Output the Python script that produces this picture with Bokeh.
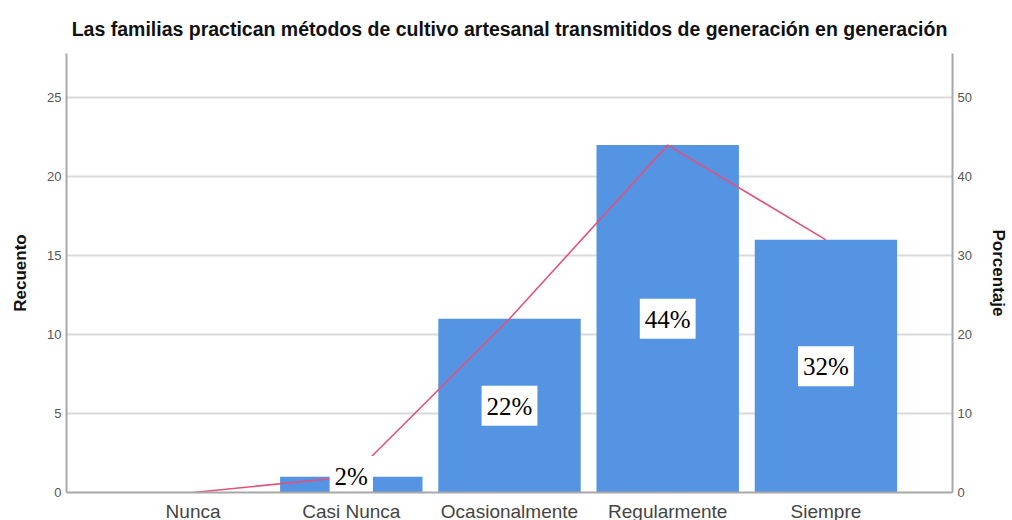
from bokeh.plotting import figure
from bokeh.models import Range1d, FactorRange, LinearAxis, FixedTicker, ColumnDataSource
from bokeh.core.properties import value
from bokeh.embed import file_html
from bokeh.resources import INLINE

categories = ["Nunca", "Casi Nunca", "Ocasionalmente", "Regularmente", "Siempre"]
counts = [0, 1, 11, 22, 16]
percents = [0, 2, 22, 44, 32]
count_ticks = [0, 5, 10, 15, 20, 25]
percent_ticks = [0, 10, 20, 30, 40, 50]

title = "Las familias practican métodos de cultivo artesanal transmitidos de generación en generación"

p = figure(
    x_range=FactorRange(factors=categories, range_padding=0.3, range_padding_units="absolute"),
    y_range=Range1d(0, 27.8),
    frame_width=886, frame_height=439,
    min_border_left=66, min_border_right=54, min_border_top=53, min_border_bottom=20,
    output_backend="svg", toolbar_location=None, title=title,
)
p.extra_y_ranges = {"pct": Range1d(0, 55.6)}

p.title.text_font = "Liberation Sans"
p.title.text_font_size = "19.5px"
p.title.text_font_style = "bold"
p.title.text_color = "#111111"
p.title.align = "center"
p.title.offset = 0
p.title.standoff = 27

p.outline_line_color = None
p.background_fill_color = "white"

bar_src = ColumnDataSource(dict(cat=categories, count=counts, pct=percents))
p.vbar(x="cat", top="count", width=0.9, source=bar_src, fill_color="#5494E3", line_color=None)
p.line(x="cat", y="pct", source=bar_src, y_range_name="pct", line_color="#E2527C", line_width=1.6)

lab_cats = [c for c, n in zip(categories, counts) if n > 0]
lab_y = [max(n / 2, 1.05) for n in counts if n > 0]
lab_txt = [f"{v}%" for v, n in zip(percents, counts) if n > 0]
lab_src = ColumnDataSource(dict(cat=lab_cats, y=lab_y, txt=lab_txt))
p.text(x="cat", y="y", text="txt", source=lab_src, text_align="center", text_baseline="middle",
       text_font=value("Liberation Serif"), text_font_size="25px", text_color="black",
       background_fill_color="white", padding=dict(left=5, right=5, top=7, bottom=6))

# left axis
ax = p.yaxis[0]
ax.ticker = FixedTicker(ticks=count_ticks)
ax.axis_label = "Recuento"
ax.axis_label_text_font = "Liberation Sans"
ax.axis_label_text_font_size = "17px"
ax.axis_label_text_font_style = "bold"
ax.axis_label_text_color = "#111111"
ax.axis_label_standoff = 14
ax.major_label_text_font = "Liberation Sans"
ax.major_label_text_font_size = "13px"
ax.major_label_text_color = "#555555"
ax.major_label_standoff = 5
ax.major_tick_in = 0
ax.major_tick_out = 0
ax.minor_tick_in = 0
ax.minor_tick_out = 0
ax.axis_line_color = "#A8A8A8"
ax.axis_line_width = 2

# right axis
rax = LinearAxis(y_range_name="pct", ticker=FixedTicker(ticks=percent_ticks))
rax.axis_label = "Porcentaje"
rax.axis_label_text_font = "Liberation Sans"
rax.axis_label_text_font_size = "17px"
rax.axis_label_text_font_style = "bold"
rax.axis_label_text_color = "#111111"
rax.axis_label_standoff = 14
rax.major_label_text_font = "Liberation Sans"
rax.major_label_text_font_size = "13px"
rax.major_label_text_color = "#555555"
rax.major_label_standoff = 5
rax.major_tick_in = 0
rax.major_tick_out = 0
rax.minor_tick_in = 0
rax.minor_tick_out = 0
rax.axis_line_color = "#A8A8A8"
rax.axis_line_width = 2
p.add_layout(rax, "right")

# x axis
xa = p.xaxis[0]
xa.major_label_text_font = "Liberation Sans"
xa.major_label_text_font_size = "19px"
xa.major_label_text_color = "#444444"
xa.major_label_standoff = 8
xa.major_tick_in = 0
xa.major_tick_out = 0
xa.axis_line_color = "#A8A8A8"
xa.axis_line_width = 2

p.xgrid.grid_line_color = None
p.ygrid.ticker = FixedTicker(ticks=count_ticks)
p.ygrid.grid_line_color = "#DADADA"
p.ygrid.grid_line_width = 2

open("out.html", "w").write(file_html(p, INLINE))
